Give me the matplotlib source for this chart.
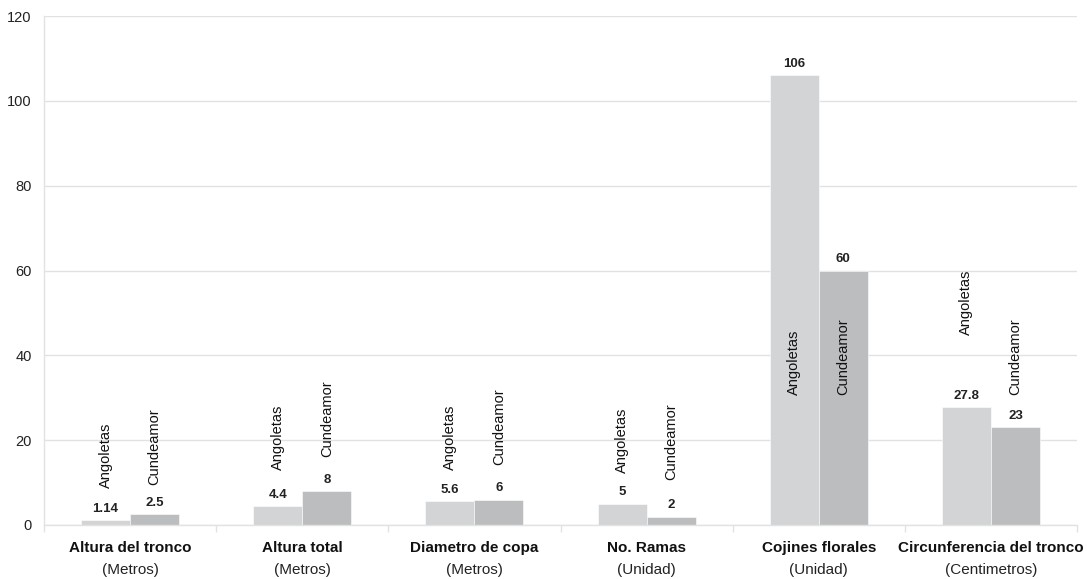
import matplotlib
matplotlib.use("Agg")
import matplotlib.pyplot as plt
import numpy as np

categories = ["Altura del tronco", "Altura total", "Diametro de copa",
              "No. Ramas", "Cojines florales", "Circunferencia del tronco"]
units = ["(Metros)", "(Metros)", "(Metros)", "(Unidad)", "(Unidad)", "(Centimetros)"]
series_names = ["Angoletas", "Cundeamor"]
angoletas = [1.14, 4.4, 5.6, 5, 106, 27.8]
cundeamor = [2.5, 8, 6, 2, 60, 23]
value_text_a = ["1.14", "4.4", "5.6", "5", "106", "27.8"]
value_text_c = ["2.5", "8", "6", "2", "60", "23"]
yticks = [0, 20, 40, 60, 80, 100, 120]

# layout of rotated series labels (data y, vertical anchor)
name_pos_a = [(8.7, "bottom"), (13.0, "bottom"), (13.0, "bottom"), (12.3, "bottom"), (38.4, "center"), (44.8, "bottom")]
name_pos_c = [(9.4, "bottom"), (16.0, "bottom"), (14.2, "bottom"), (10.6, "bottom"), (39.6, "center"), (30.7, "bottom")]

narrow = ["Liberation Sans Narrow", "Liberation Sans", "DejaVu Sans"]
plain = ["Liberation Sans", "DejaVu Sans"]

col_a = "#d3d4d6"
col_c = "#bcbdbf"
grid_col = "#e2e2e2"

fig = plt.figure(figsize=(10.87, 5.79), dpi=100)
ax = fig.add_axes([44 / 1087, 54 / 579, (1077 - 44) / 1087, (525 - 16) / 579])

x = np.arange(len(categories))
w = 0.285
ax.bar(x - w / 2, angoletas, width=w, color=col_a, edgecolor="white", linewidth=0.4, zorder=2)
ax.bar(x + w / 2, cundeamor, width=w, color=col_c, edgecolor="white", linewidth=0.4, zorder=2)

for i in range(len(categories)):
    ax.annotate(value_text_a[i], (x[i] - w / 2, angoletas[i]), xytext=(0, 4),
                textcoords="offset points", ha="center", va="bottom",
                fontsize=9.5, fontweight="bold", family=narrow, color="#222222")
    ax.annotate(value_text_c[i], (x[i] + w / 2, cundeamor[i]), xytext=(0, 4),
                textcoords="offset points", ha="center", va="bottom",
                fontsize=9.5, fontweight="bold", family=narrow, color="#222222")
    ya, vaa = name_pos_a[i]
    yc, vac = name_pos_c[i]
    ax.text(x[i] - w / 2, ya, series_names[0], rotation=90, ha="center", va=vaa,
            fontsize=10.5, family=plain, color="#111111", zorder=3)
    ax.text(x[i] + w / 2, yc, series_names[1], rotation=90, ha="center", va=vac,
            fontsize=10.5, family=plain, color="#111111", zorder=3)

ax.set_xlim(-0.5, len(categories) - 0.5)
ax.set_ylim(0, 120)
ax.set_yticks(yticks)
ax.set_yticklabels([str(t) for t in yticks], family=plain, fontsize=10.5, color="#222222")
ax.yaxis.grid(True, color=grid_col, linewidth=1, zorder=0)
ax.set_axisbelow(True)
ax.tick_params(axis="y", length=0, pad=9)

ax.set_xticks(np.arange(len(categories) + 1) - 0.5)
ax.set_xticklabels([])
ax.tick_params(axis="x", length=5, color=grid_col, width=1)

for s in ["top", "right"]:
    ax.spines[s].set_visible(False)
for s in ["left", "bottom"]:
    ax.spines[s].set_color(grid_col)
    ax.spines[s].set_linewidth(1)

for i in range(len(categories)):
    ax.text(x[i], -0.045, categories[i], transform=ax.get_xaxis_transform(),
            ha="center", va="center", fontsize=11, fontweight="bold", family=narrow, color="#111111")
    ax.text(x[i], -0.088, units[i], transform=ax.get_xaxis_transform(),
            ha="center", va="center", fontsize=11, family=narrow, color="#222222")

fig.savefig("out.png", dpi=100)
